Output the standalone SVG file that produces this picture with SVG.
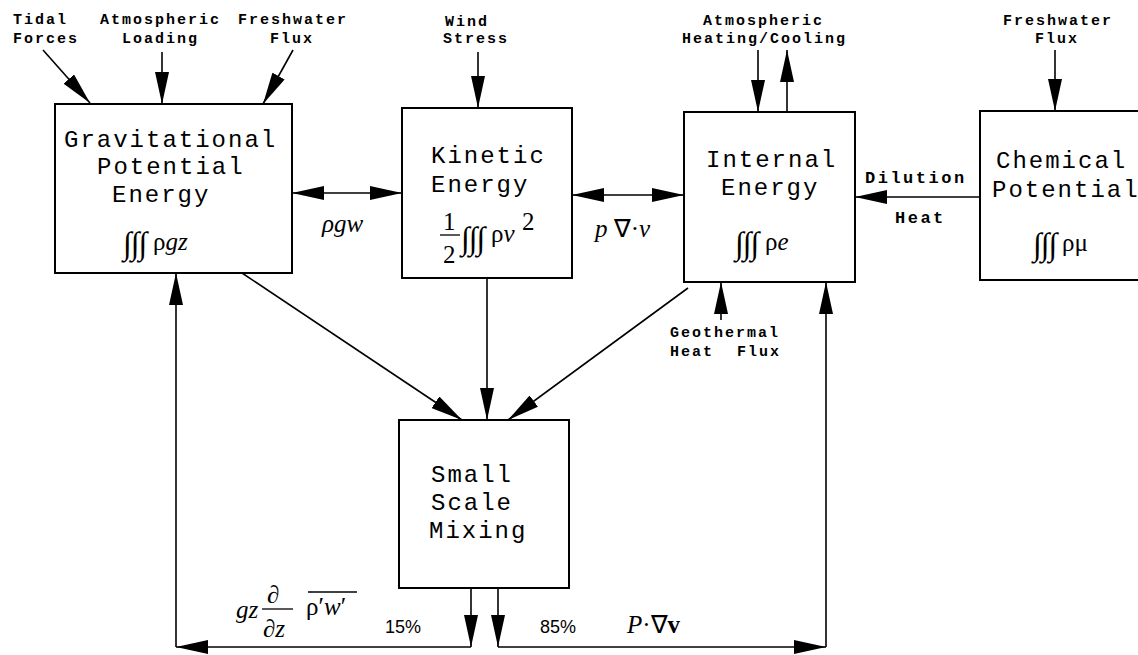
<svg xmlns="http://www.w3.org/2000/svg" width="1138" height="655" viewBox="0 0 1138 655">
<defs>
<style>
.box{fill:#fff;stroke:#000;stroke-width:2}
.ln{fill:none;stroke:#000;stroke-width:1.6}
.big{font-family:"Liberation Mono",monospace;font-size:24px;letter-spacing:2px;fill:#000}
.sm{font-family:"Liberation Mono",monospace;font-size:15px;font-weight:bold;letter-spacing:2px;fill:#000}
.md{font-family:"Liberation Mono",monospace;font-size:17px;font-weight:bold;letter-spacing:2.5px;fill:#000}
.m{font-family:"Liberation Serif",serif;font-style:italic;font-size:25px;fill:#000}
.mu{font-family:"Liberation Serif",serif;font-style:normal;font-size:25px;fill:#000}
.int{font-family:"Liberation Serif",serif;font-style:italic;font-size:32px;letter-spacing:-1px;fill:#000}
.pc{font-family:"Liberation Sans",sans-serif;font-size:18px;fill:#000}
</style>
<marker id="ah" viewBox="0 0 32 14" refX="32" refY="7" markerWidth="32" markerHeight="14" markerUnits="userSpaceOnUse" orient="auto-start-reverse">
<path d="M0,0 L32,7 L0,14 Z" fill="#000"/>
</marker>
</defs>
<rect width="1138" height="655" fill="#fff"/>

<g id="connectors">
<line class="ln" x1="43" y1="50" x2="90" y2="103" marker-end="url(#ah)"/>
<line class="ln" x1="162" y1="52" x2="162" y2="104" marker-end="url(#ah)"/>
<line class="ln" x1="293" y1="50" x2="263" y2="104" marker-end="url(#ah)"/>
<line class="ln" x1="478" y1="52" x2="478" y2="108" marker-end="url(#ah)"/>
<line class="ln" x1="758" y1="50" x2="758" y2="112" marker-end="url(#ah)"/>
<line class="ln" x1="787" y1="112" x2="787" y2="50" marker-end="url(#ah)"/>
<line class="ln" x1="1055" y1="50" x2="1055" y2="111" marker-end="url(#ah)"/>
<line class="ln" x1="292" y1="193" x2="402" y2="193" marker-start="url(#ah)" marker-end="url(#ah)"/>
<line class="ln" x1="572" y1="195" x2="684" y2="195" marker-start="url(#ah)" marker-end="url(#ah)"/>
<line class="ln" x1="980" y1="197" x2="855" y2="197" marker-end="url(#ah)"/>
<line class="ln" x1="242" y1="273" x2="462" y2="420" marker-end="url(#ah)"/>
<line class="ln" x1="487" y1="278" x2="487" y2="420" marker-end="url(#ah)"/>
<line class="ln" x1="688" y1="288" x2="508" y2="420" marker-end="url(#ah)"/>
<line class="ln" x1="721" y1="320" x2="721" y2="282" marker-end="url(#ah)"/>
<line class="ln" x1="471" y1="588" x2="471" y2="647" marker-end="url(#ah)"/>
<line class="ln" x1="471" y1="647" x2="176" y2="647" marker-end="url(#ah)"/>
<line class="ln" x1="176" y1="647" x2="176" y2="273" marker-end="url(#ah)"/>
<line class="ln" x1="498" y1="588" x2="498" y2="647" marker-end="url(#ah)"/>
<line class="ln" x1="498" y1="647" x2="826" y2="647" marker-end="url(#ah)"/>
<line class="ln" x1="826" y1="647" x2="826" y2="282" marker-end="url(#ah)"/>
</g>

<g id="labels">
<text class="sm" x="13" y="24">Tidal</text>
<text class="sm" x="13" y="43">Forces</text>
<text class="sm" x="100" y="24">Atmospheric</text>
<text class="sm" x="122" y="43">Loading</text>
<text class="sm" x="238" y="24">Freshwater</text>
<text class="sm" x="270" y="43">Flux</text>
<text class="sm" x="445" y="26">Wind</text>
<text class="sm" x="443" y="43">Stress</text>
<text class="sm" x="703" y="25">Atmospheric</text>
<text class="sm" x="682" y="43">Heating/Cooling</text>
<text class="sm" x="1003" y="25">Freshwater</text>
<text class="sm" x="1035" y="43">Flux</text>
<text class="sm" x="670" y="337">Geothermal</text>
<text class="sm" y="356"><tspan x="670">Heat</tspan><tspan x="737">Flux</tspan></text>
<text class="md" x="865" y="183">Dilution</text>
<text class="md" x="895" y="223">Heat</text>
<text class="m" x="322" y="232">ρgw</text>
<text class="m" x="595" y="237">p<tspan class="mu"> ∇·</tspan>v</text>
<text class="m" x="236" y="618">gz</text>
<text class="mu" x="267" y="603" font-size="22">∂</text>
<line x1="262" y1="609" x2="293" y2="609" stroke="#000" stroke-width="1.3"/>
<text class="mu" x="263" y="637" font-size="22">∂<tspan font-style="italic">z</tspan></text>
<text class="mu" x="306" y="615">ρ′<tspan font-style="italic">w</tspan>′</text>
<line x1="308" y1="592" x2="357" y2="592" stroke="#000" stroke-width="1.3"/>
<text class="pc" x="385" y="633">15%</text>
<text class="pc" x="540" y="633">85%</text>
<text class="m" x="627" y="633">P<tspan class="mu">·∇</tspan><tspan class="mu" font-weight="bold">v</tspan></text>
</g>

<g id="gravitational">
<rect class="box" x="55" y="104" width="237" height="169"/>
<text class="big" x="64" y="147">Gravitational</text>
<text class="big" x="97" y="174">Potential</text>
<text class="big" x="112" y="202">Energy</text>
<text class="int" x="123" y="254">∫∫∫</text>
<text class="mu" x="153" y="250">ρ<tspan font-style="italic">gz</tspan></text>
</g>

<g id="kinetic">
<rect class="box" x="402" y="108" width="170" height="170"/>
<text class="big" x="431" y="163">Kinetic</text>
<text class="big" x="431" y="192">Energy</text>
<text class="mu" x="443" y="230" font-size="20">1</text>
<line x1="440" y1="235" x2="460" y2="235" stroke="#000" stroke-width="1.3"/>
<text class="mu" x="443" y="263" font-size="20">2</text>
<text class="int" x="461" y="249">∫∫∫</text>
<text class="mu" x="491" y="242" font-size="27">ρ<tspan font-style="italic">ν</tspan></text>
<text class="mu" x="522" y="230" font-size="19">2</text>
</g>

<g id="internal">
<rect class="box" x="684" y="112" width="171" height="170"/>
<text class="big" x="706" y="167">Internal</text>
<text class="big" x="721" y="195">Energy</text>
<text class="int" x="735" y="254">∫∫∫</text>
<text class="mu" x="765" y="250">ρ<tspan font-style="italic">e</tspan></text>
</g>

<g id="chemical">
<rect class="box" x="980" y="111" width="200" height="169"/>
<text class="big" x="996" y="168">Chemical</text>
<text class="big" x="992" y="197" letter-spacing="0.6">Potential</text>
<text class="int" x="1033" y="255" font-style="normal">∫∫∫</text>
<text class="mu" x="1062" y="251">ρμ</text>
</g>

<g id="mixing">
<rect class="box" x="399" y="420" width="170" height="168"/>
<text class="big" x="431" y="482">Small</text>
<text class="big" x="431" y="510">Scale</text>
<text class="big" x="429" y="538">Mixing</text>
</g>
</svg>
